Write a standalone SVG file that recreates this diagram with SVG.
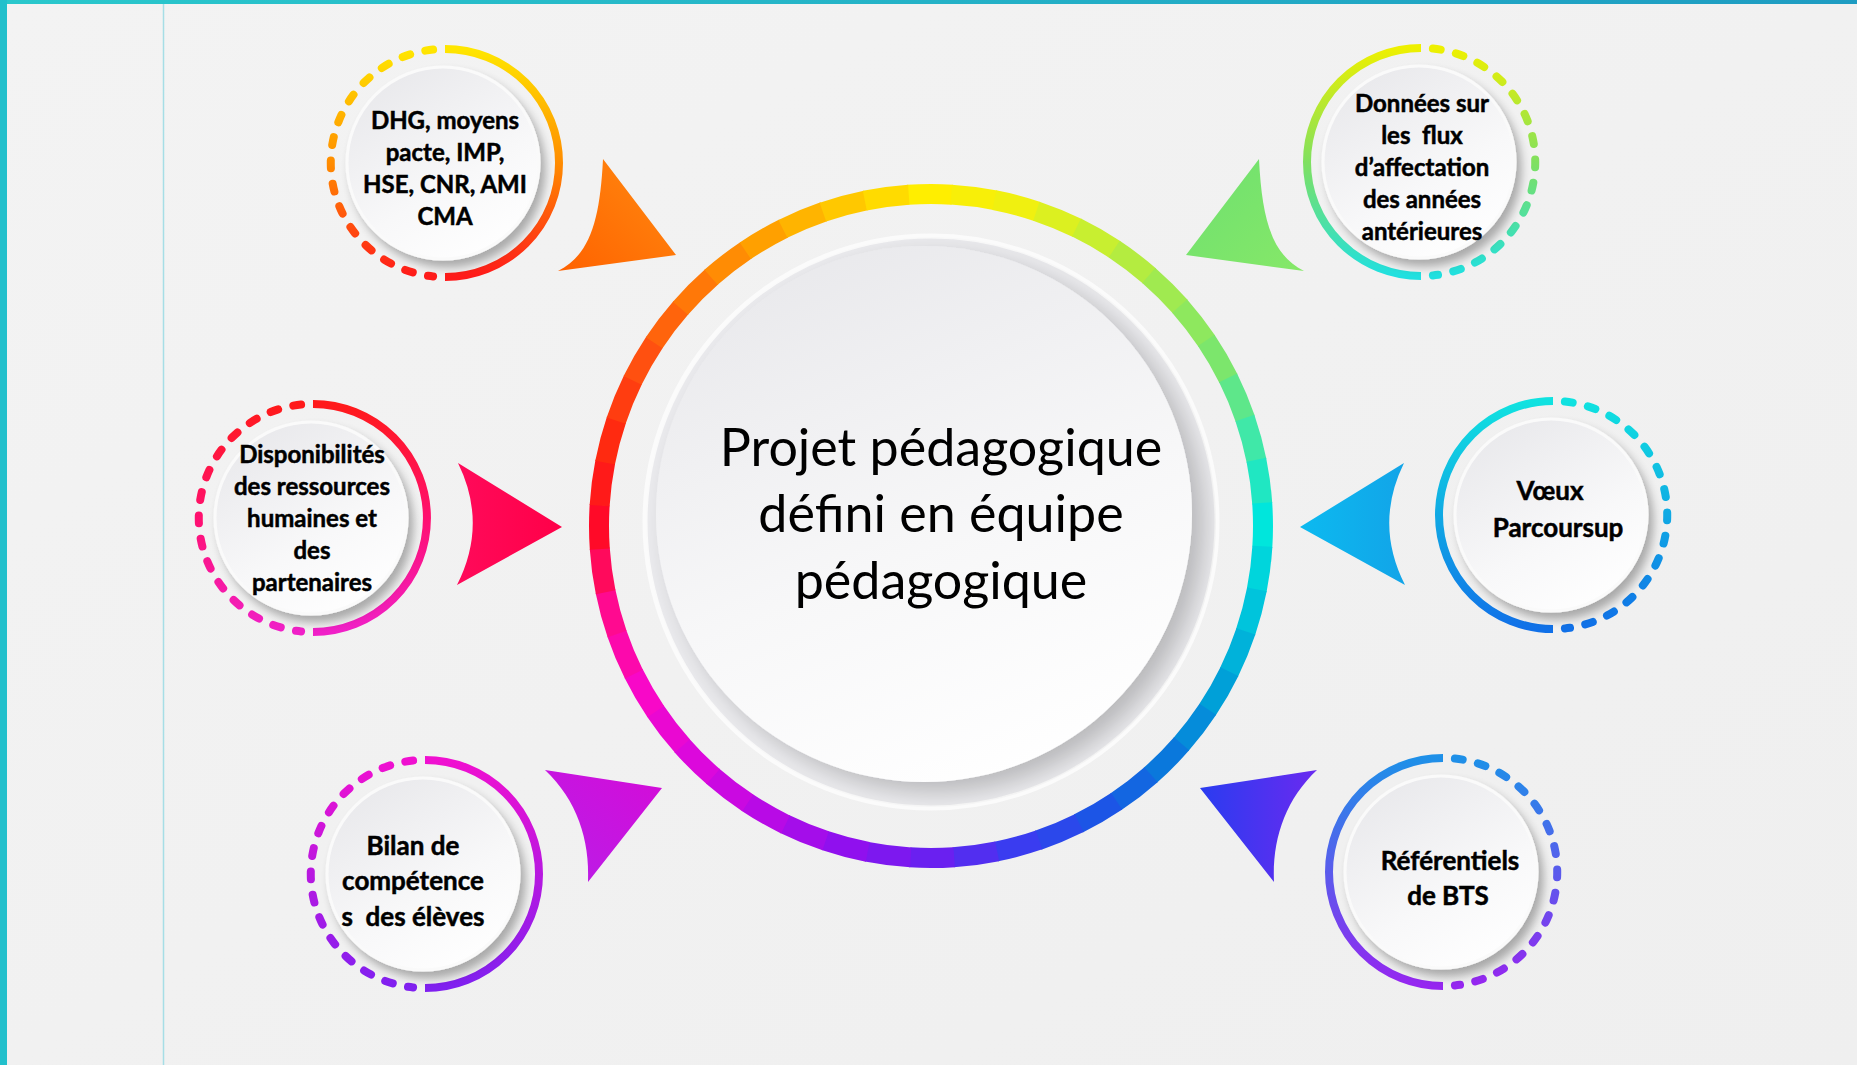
<svg xmlns="http://www.w3.org/2000/svg" width="1857" height="1065" viewBox="0 0 1857 1065">
<defs>
<style>
.seg{fill:none;stroke-width:20;stroke-dasharray:44.5 2041.5}
.solid{fill:none;stroke-width:8;stroke-linecap:butt}
.dash{fill:none;stroke-width:8;stroke-linecap:round;stroke-dasharray:8 15.5}
.lbl{font-family:Lato,"Open Sans","Liberation Sans",sans-serif;font-weight:700;fill:#000;stroke:#000;stroke-width:0.5;text-anchor:middle;white-space:pre}
.ctr{font-family:Lato,"Open Sans","Liberation Sans",sans-serif;font-weight:400;fill:#000;text-anchor:middle;font-size:52px}
.disk{fill:url(#diskG);stroke:#fafafa;stroke-width:3}
</style>
<linearGradient id="bgG" x1="0" y1="0" x2="1" y2="1"><stop offset="0" stop-color="#f3f3f3"/><stop offset="0.5" stop-color="#f1f1f1"/><stop offset="1" stop-color="#efefef"/></linearGradient>
<linearGradient id="topG" x1="0" y1="0" x2="1" y2="0"><stop offset="0" stop-color="#2ac8cc"/><stop offset="1" stop-color="#1e9cc2"/></linearGradient>
<linearGradient id="diskG" x1="0.2" y1="0" x2="0.8" y2="1"><stop offset="0" stop-color="#e8e8eb"/><stop offset="0.6" stop-color="#f8f8f9"/><stop offset="1" stop-color="#ffffff"/></linearGradient>
<linearGradient id="faceG" x1="0.3" y1="0" x2="0.7" y2="1"><stop offset="0" stop-color="#e9e9ec"/><stop offset="0.55" stop-color="#f7f7f8"/><stop offset="1" stop-color="#ffffff"/></linearGradient>
<linearGradient id="g1" x1="0" y1="0" x2="0" y2="1"><stop offset="0" stop-color="#ffe600"/><stop offset="0.5" stop-color="#ff8c00"/><stop offset="1" stop-color="#ff1a1a"/></linearGradient>
<linearGradient id="g2" x1="0" y1="0" x2="0" y2="1"><stop offset="0" stop-color="#eef000"/><stop offset="0.5" stop-color="#80e060"/><stop offset="1" stop-color="#20e0e0"/></linearGradient>
<linearGradient id="g3" x1="0" y1="0" x2="0" y2="1"><stop offset="0" stop-color="#ff1a1a"/><stop offset="0.5" stop-color="#ff1070"/><stop offset="1" stop-color="#f020c8"/></linearGradient>
<linearGradient id="g4" x1="0" y1="0" x2="0" y2="1"><stop offset="0" stop-color="#10e2e0"/><stop offset="1" stop-color="#1070e8"/></linearGradient>
<linearGradient id="g5" x1="0" y1="0" x2="0" y2="1"><stop offset="0" stop-color="#f010d0"/><stop offset="1" stop-color="#8020f0"/></linearGradient>
<linearGradient id="g6" x1="0" y1="0" x2="0" y2="1"><stop offset="0" stop-color="#1e90e8"/><stop offset="1" stop-color="#9626f0"/></linearGradient>
<linearGradient id="aOr" x1="0" y1="1" x2="1" y2="0"><stop offset="0" stop-color="#ff6200"/><stop offset="1" stop-color="#ff8a10"/></linearGradient>
<linearGradient id="aGr" x1="0" y1="0" x2="1" y2="1"><stop offset="0" stop-color="#6ee070"/><stop offset="1" stop-color="#86e868"/></linearGradient>
<linearGradient id="aPk" x1="0" y1="0" x2="1" y2="0"><stop offset="0" stop-color="#ff0a5a"/><stop offset="1" stop-color="#ff0048"/></linearGradient>
<linearGradient id="aCy" x1="0" y1="0" x2="1" y2="0"><stop offset="0" stop-color="#0cbaf0"/><stop offset="1" stop-color="#12a4e8"/></linearGradient>
<linearGradient id="aPu" x1="0" y1="1" x2="1" y2="0"><stop offset="0" stop-color="#b81ee8"/><stop offset="1" stop-color="#d40cd8"/></linearGradient>
<linearGradient id="aBl" x1="0" y1="0" x2="1" y2="0"><stop offset="0" stop-color="#2a3cf0"/><stop offset="1" stop-color="#6a2af0"/></linearGradient>
<filter id="sh" x="-30%" y="-30%" width="170%" height="170%"><feGaussianBlur in="SourceAlpha" stdDeviation="5"/><feOffset dx="5" dy="7"/><feComponentTransfer><feFuncA type="linear" slope="0.3"/></feComponentTransfer><feMerge><feMergeNode/><feMergeNode in="SourceGraphic"/></feMerge></filter>
<filter id="shBig" x="-20%" y="-20%" width="150%" height="150%"><feGaussianBlur in="SourceAlpha" stdDeviation="12"/><feOffset dx="12" dy="10"/><feComponentTransfer><feFuncA type="linear" slope="0.22"/></feComponentTransfer><feMerge><feMergeNode/><feMergeNode in="SourceGraphic"/></feMerge></filter>
<clipPath id="plateClip"><circle cx="931" cy="522" r="285"/></clipPath>
</defs>

<rect width="1857" height="1065" fill="url(#bgG)"/>
<rect x="0" y="0" width="1857" height="4" fill="url(#topG)"/>
<rect x="0" y="0" width="7" height="1065" fill="#22c0cc"/>
<line x1="163.5" y1="4" x2="163.5" y2="1065" stroke="#a6dee6" stroke-width="1.5"/>

<g id="connectors">
<path d="M603,159 L676,255 L558,271 C590,255 600,220 603,159 Z" fill="url(#aOr)"/>
<path d="M1259,159 L1186,255 L1304,271 C1272,255 1262,220 1259,159 Z" fill="url(#aGr)"/>
<path d="M458,463 L562,527 L457,585 Q488,524 458,463 Z" fill="url(#aPk)"/>
<path d="M1404,463 L1300,527 L1405,585 Q1374,524 1404,463 Z" fill="url(#aCy)"/>
<path d="M662,788 L545,770 C577,800 590,840 588,882 Z" fill="url(#aPu)"/>
<path d="M1200,788 L1317,770 C1285,800 1272,840 1274,882 Z" fill="url(#aBl)"/>
</g>

<g id="center">
<g transform="translate(931 526)">
<circle class="seg" r="332" stroke="#ffee00" transform="rotate(-94)"/>
<circle class="seg" r="332" stroke="#f8ef08" transform="rotate(-86.5)"/>
<circle class="seg" r="332" stroke="#f0f010" transform="rotate(-79)"/>
<circle class="seg" r="332" stroke="#dcf020" transform="rotate(-71.5)"/>
<circle class="seg" r="332" stroke="#c8ef30" transform="rotate(-64)"/>
<circle class="seg" r="332" stroke="#b4ec40" transform="rotate(-56.5)"/>
<circle class="seg" r="332" stroke="#a0ea50" transform="rotate(-49)"/>
<circle class="seg" r="332" stroke="#8ee85e" transform="rotate(-41.5)"/>
<circle class="seg" r="332" stroke="#7ce66c" transform="rotate(-34)"/>
<circle class="seg" r="332" stroke="#5ee78a" transform="rotate(-26.5)"/>
<circle class="seg" r="332" stroke="#40e8a8" transform="rotate(-19)"/>
<circle class="seg" r="332" stroke="#20e7c2" transform="rotate(-11.5)"/>
<circle class="seg" r="332" stroke="#00e6dc" transform="rotate(-4)"/>
<circle class="seg" r="332" stroke="#00d5dc" transform="rotate(3.5)"/>
<circle class="seg" r="332" stroke="#00c4dc" transform="rotate(11)"/>
<circle class="seg" r="332" stroke="#00b2da" transform="rotate(18.5)"/>
<circle class="seg" r="332" stroke="#00a0d8" transform="rotate(26)"/>
<circle class="seg" r="332" stroke="#058cda" transform="rotate(33.5)"/>
<circle class="seg" r="332" stroke="#0a78dc" transform="rotate(41)"/>
<circle class="seg" r="332" stroke="#1366e1" transform="rotate(48.5)"/>
<circle class="seg" r="332" stroke="#1c55e6" transform="rotate(56)"/>
<circle class="seg" r="332" stroke="#2b48eb" transform="rotate(63.5)"/>
<circle class="seg" r="332" stroke="#3a3cf0" transform="rotate(71)"/>
<circle class="seg" r="332" stroke="#522ef0" transform="rotate(78.5)"/>
<circle class="seg" r="332" stroke="#6a20f0" transform="rotate(86)"/>
<circle class="seg" r="332" stroke="#7d18ef" transform="rotate(93.5)"/>
<circle class="seg" r="332" stroke="#9010ee" transform="rotate(101)"/>
<circle class="seg" r="332" stroke="#a40dea" transform="rotate(108.5)"/>
<circle class="seg" r="332" stroke="#b80ae6" transform="rotate(116)"/>
<circle class="seg" r="332" stroke="#ca09e1" transform="rotate(123.5)"/>
<circle class="seg" r="332" stroke="#dc08dc" transform="rotate(131)"/>
<circle class="seg" r="332" stroke="#ea08d2" transform="rotate(138.5)"/>
<circle class="seg" r="332" stroke="#f808c8" transform="rotate(146)"/>
<circle class="seg" r="332" stroke="#fc09ac" transform="rotate(153.5)"/>
<circle class="seg" r="332" stroke="#ff0a90" transform="rotate(161)"/>
<circle class="seg" r="332" stroke="#ff0a5c" transform="rotate(168.5)"/>
<circle class="seg" r="332" stroke="#ff0a28" transform="rotate(176)"/>
<circle class="seg" r="332" stroke="#ff1a19" transform="rotate(183.5)"/>
<circle class="seg" r="332" stroke="#ff2a10" transform="rotate(191)"/>
<circle class="seg" r="332" stroke="#ff3d10" transform="rotate(198.5)"/>
<circle class="seg" r="332" stroke="#ff5010" transform="rotate(206)"/>
<circle class="seg" r="332" stroke="#ff640c" transform="rotate(213.5)"/>
<circle class="seg" r="332" stroke="#ff7808" transform="rotate(221)"/>
<circle class="seg" r="332" stroke="#ff8c04" transform="rotate(228.5)"/>
<circle class="seg" r="332" stroke="#ffa000" transform="rotate(236)"/>
<circle class="seg" r="332" stroke="#ffb400" transform="rotate(243.5)"/>
<circle class="seg" r="332" stroke="#ffc800" transform="rotate(251)"/>
<circle class="seg" r="332" stroke="#ffdb00" transform="rotate(258.5)"/>
</g>
<circle cx="931" cy="522" r="286" fill="#ebebee" stroke="#fbfbfb" stroke-width="5"/>
<g clip-path="url(#plateClip)">
<circle cx="924" cy="514" r="268" fill="url(#faceG)" filter="url(#shBig)"/>
</g>
<text class="ctr" x="941" y="466">Projet pédagogique</text>
<text class="ctr" x="941" y="532">défini en équipe</text>
<text class="ctr" x="941" y="599">pédagogique</text>
</g>

<g id="node-dhg">
<path class="solid" d="M445,49 A114,114 0 0 1 445,277" stroke="url(#g1)"/>
<path class="dash" d="M433.1,49.6 A114,114 0 0 0 433.1,276.4" stroke="url(#g1)"/>
<circle class="disk" cx="443" cy="163" r="96" filter="url(#sh)"/>
<text class="lbl" font-size="24"><tspan x="445" y="129">DHG, moyens</tspan><tspan x="445" y="161">pacte, IMP,</tspan><tspan x="445" y="193">HSE, CNR, AMI</tspan><tspan x="445" y="225">CMA</tspan></text>
</g>

<g id="node-donnees">
<path class="solid" d="M1421,48 A114,114 0 0 0 1421,276" stroke="url(#g2)"/>
<path class="dash" d="M1432.9,48.6 A114,114 0 0 1 1432.9,275.4" stroke="url(#g2)"/>
<circle class="disk" cx="1419" cy="162" r="96" filter="url(#sh)"/>
<text class="lbl" font-size="24"><tspan x="1422" y="112">Données sur</tspan><tspan x="1422" y="144">les  flux</tspan><tspan x="1422" y="176">d’affectation</tspan><tspan x="1422" y="208">des années</tspan><tspan x="1422" y="240">antérieures</tspan></text>
</g>

<g id="node-dispo">
<path class="solid" d="M313,404 A114,114 0 0 1 313,632" stroke="url(#g3)"/>
<path class="dash" d="M301.1,404.6 A114,114 0 0 0 301.1,631.4" stroke="url(#g3)"/>
<circle class="disk" cx="311" cy="518" r="96" filter="url(#sh)"/>
<text class="lbl" font-size="24"><tspan x="312" y="463">Disponibilités</tspan><tspan x="312" y="495">des ressources</tspan><tspan x="312" y="527">humaines et</tspan><tspan x="312" y="559">des</tspan><tspan x="312" y="591">partenaires</tspan></text>
</g>

<g id="node-voeux">
<path class="solid" d="M1553,401 A114,114 0 0 0 1553,629" stroke="url(#g4)"/>
<path class="dash" d="M1564.9,401.6 A114,114 0 0 1 1564.9,628.4" stroke="url(#g4)"/>
<circle class="disk" cx="1551" cy="515" r="96" filter="url(#sh)"/>
<text class="lbl" font-size="26"><tspan x="1550" y="500">Vœux</tspan><tspan x="1558" y="537">Parcoursup</tspan></text>
</g>

<g id="node-bilan">
<path class="solid" d="M425,760 A114,114 0 0 1 425,988" stroke="url(#g5)"/>
<path class="dash" d="M413.1,760.6 A114,114 0 0 0 413.1,987.4" stroke="url(#g5)"/>
<circle class="disk" cx="423" cy="874" r="96" filter="url(#sh)"/>
<text class="lbl" font-size="26"><tspan x="413" y="855">Bilan de</tspan><tspan x="413" y="890">compétence</tspan><tspan x="413" y="926">s  des élèves</tspan></text>
</g>

<g id="node-referentiels">
<path class="solid" d="M1443,758 A114,114 0 0 0 1443,986" stroke="url(#g6)"/>
<path class="dash" d="M1454.9,758.6 A114,114 0 0 1 1454.9,985.4" stroke="url(#g6)"/>
<circle class="disk" cx="1441" cy="872" r="96" filter="url(#sh)"/>
<text class="lbl" font-size="26"><tspan x="1450" y="870">Référentiels</tspan><tspan x="1448" y="905">de BTS</tspan></text>
</g>
</svg>
